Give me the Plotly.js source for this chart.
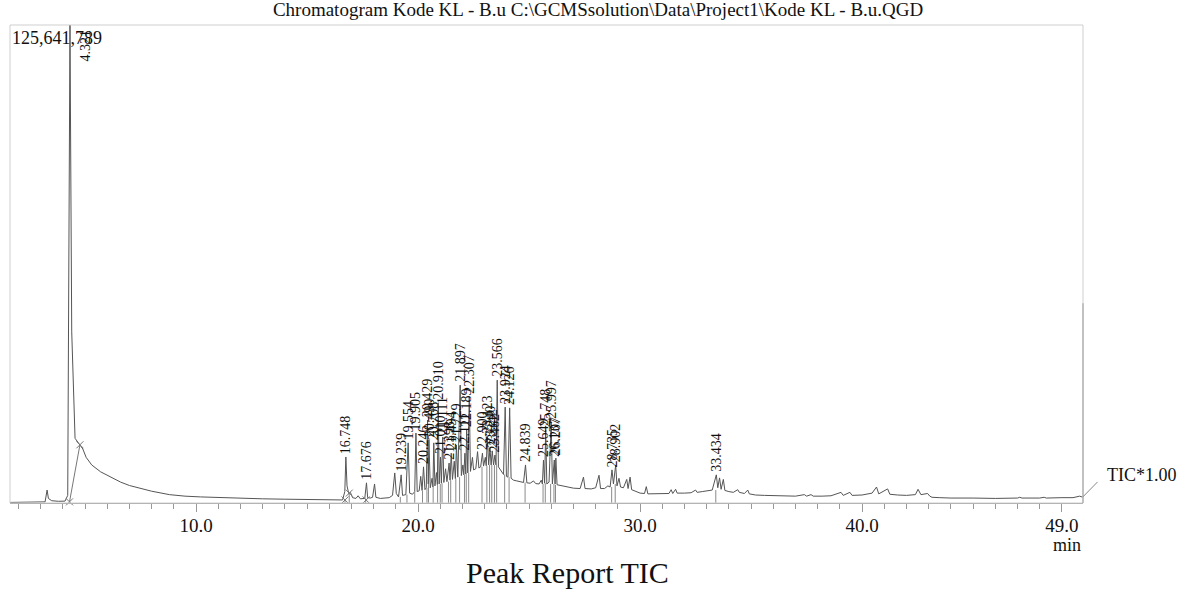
<!DOCTYPE html>
<html>
<head>
<meta charset="utf-8">
<script src="https://cdn.plot.ly/plotly-3.0.1.min.js"></script>
<style>html,body{margin:0;padding:0;background:#fff;}#chart{width:1182px;height:595px;}</style>
</head>
<body>
<div id="chart"></div>
<script>
// TIC trace: retention time (min) and intensity (x10^6 counts)
const ticTime = [
 1.60,2.50,3.20,3.29,3.35,3.50,3.80,4.10,4.22,4.321,4.40,4.55,4.77,4.90,5.05,5.30,5.70,6.20,6.60,7.00,7.50,8.00,8.80,9.50,10.20,11.00,12.00,13.00,14.00,15.00,16.00,16.60,16.70,16.748,16.80,16.88,16.95,17.05,17.20,17.30,17.40,17.60,17.676,17.73,17.85,17.95,18.04,18.10,18.30,18.50,18.70,18.85,18.95,19.02,19.12,19.239,19.30,19.45,19.554,19.62,19.75,19.85,19.905,19.96,20.05,20.12,20.18,20.246,20.31,20.37,20.429,20.46,20.490,20.55,20.63,20.67,20.708,20.76,20.83,20.87,20.910,20.95,21.010,21.05,21.111,21.16,21.24,21.30,21.398,21.44,21.494,21.55,21.63,21.68,21.729,21.79,21.897,21.95,22.02,22.06,22.111,22.15,22.189,22.24,22.307,22.36,22.45,22.50,22.60,22.68,22.74,22.82,22.900,22.95,23.03,23.07,23.123,23.18,23.240,23.29,23.342,23.40,23.462,23.51,23.566,23.62,23.70,23.78,23.85,23.924,23.98,24.05,24.126,24.19,24.30,24.45,24.60,24.75,24.839,24.90,25.05,25.20,25.30,25.45,25.55,25.60,25.649,25.70,25.748,25.80,25.90,25.997,26.05,26.137,26.17,26.207,26.26,26.40,26.60,26.80,27.00,27.30,27.45,27.52,27.80,28.00,28.15,28.22,28.40,28.55,28.65,28.735,28.80,28.902,28.96,29.05,29.12,29.25,29.40,29.46,29.55,29.62,29.80,30.00,30.20,30.28,30.35,30.60,31.00,31.30,31.40,31.47,31.60,31.67,32.00,32.30,32.50,32.57,32.80,32.95,33.10,33.25,33.434,33.50,33.58,33.65,33.75,33.82,34.00,34.20,34.40,34.47,34.70,34.85,34.92,35.20,35.60,36.00,36.50,37.00,37.40,37.50,37.70,37.80,38.20,38.60,39.05,39.15,39.45,39.55,40.00,40.35,40.45,40.65,40.75,41.15,41.25,41.60,42.00,42.40,42.52,42.65,42.95,43.05,43.15,43.50,44.00,45.00,46.00,47.00,47.10,47.20,48.00,48.20,48.30,49.00,49.50,49.80,49.95
];
const ticValue = [
 0.15,0.20,0.30,3.40,1.20,0.60,0.45,0.50,2.0,125.64,45.0,17.0,15.3,14.2,12.0,10.0,8.2,6.6,5.5,4.6,3.9,3.1,2.2,1.8,1.6,1.4,1.2,1.1,1.0,0.9,0.8,0.8,3.0,12.1,4.5,2.4,2.8,1.4,1.2,1.9,1.1,1.2,5.3,1.4,1.3,1.5,5.0,1.5,1.2,1.3,1.4,2.0,7.9,2.5,1.6,7.4,2.0,2.2,15.8,2.6,2.3,3.0,18.4,3.0,3.2,7.0,3.3,9.5,3.5,4.0,21.8,5.0,16.6,4.0,6.5,4.2,15.8,4.5,8.0,4.8,26.3,5.0,12.1,5.2,17.3,5.4,9.0,5.6,10.5,6.0,13.1,6.2,11.0,6.4,15.2,6.8,31.0,7.2,10.0,7.4,13.1,7.6,19.2,7.9,27.9,8.3,12.0,8.7,9.0,13.5,9.2,9.5,13.1,9.7,12.0,9.8,17.3,10.0,14.5,10.0,13.7,10.0,12.6,10.0,32.3,9.5,8.8,8.4,7.5,25.2,7.0,6.8,25.0,6.5,6.0,5.8,5.6,5.4,10.0,5.3,5.2,5.8,5.1,5.0,6.0,5.0,11.3,5.2,19.2,5.0,5.5,21.3,5.0,11.3,5.0,11.8,4.8,4.6,4.5,4.2,3.9,3.8,6.8,3.8,3.7,4.0,7.3,3.8,3.8,4.5,4.2,8.7,5.0,10.0,4.5,6.5,4.2,4.0,6.2,3.8,6.8,3.5,3.0,2.6,2.5,4.3,2.4,2.4,2.4,2.5,3.5,2.5,3.6,2.6,2.6,2.7,3.4,2.8,3.0,3.2,3.2,3.4,7.4,4.0,6.6,3.6,6.2,3.3,3.0,2.8,3.5,2.8,2.5,3.4,2.4,2.1,2.0,1.9,1.8,1.8,2.2,1.8,2.2,1.8,1.8,1.9,2.8,2.0,2.8,2.0,2.1,2.4,2.6,4.2,2.4,3.7,2.3,2.1,2.0,2.2,3.6,2.2,2.5,1.8,1.5,1.4,1.3,1.3,1.2,1.3,1.5,1.3,1.3,1.5,1.3,1.4,1.4,1.8,1.5
];

// Labelled peaks
const peakLabels = ['16.748','17.676','19.239','19.554','19.905','20.246','20.429','20.490','20.708','20.910','21.010','21.111','21.398','21.494','21.729','21.897','22.111','22.189','22.307','22.900','23.123','23.240','23.342','23.462','23.566','23.924','24.126','24.839','25.649','25.748','25.997','26.137','26.207','28.735','28.902','33.434'];
const peakTime = [16.748,17.676,19.239,19.554,19.905,20.246,20.429,20.490,20.708,20.910,21.010,21.111,21.398,21.494,21.729,21.897,22.111,22.189,22.307,22.900,23.123,23.240,23.342,23.462,23.566,23.924,24.126,24.839,25.649,25.748,25.997,26.137,26.207,28.735,28.902,33.434];
const peakHeight = [12.1,5.3,7.4,15.8,18.4,9.5,21.8,16.6,15.8,26.3,12.1,17.3,10.5,13.1,15.2,31.0,13.1,19.2,27.9,13.1,17.3,14.5,13.7,12.6,32.3,25.2,25.0,10.0,11.3,19.2,21.3,11.3,11.8,8.7,10.0,7.4];

// Main solvent peak
const mainPeakTime = 4.321;
const mainPeakLabel = '4.321';
const maxIntensityText = '125,641,789';

// Integration marks (peak boundaries): time, top, bottom
const markTime = [16.71,16.90,17.64,19.20,19.50,19.85,20.20,20.40,20.47,20.68,20.88,21.00,21.08,21.37,21.47,21.70,21.87,22.09,22.17,22.28,22.88,23.10,23.22,23.32,23.44,23.54,23.90,24.10,24.82,25.63,25.73,25.97,26.12,26.19,28.72,28.88,33.41];
const markTop = [0.8,2.6,1.2,1.6,2.2,3.0,3.3,4.0,5.0,4.2,4.8,5.0,5.2,5.6,6.0,6.4,6.8,7.4,7.6,7.9,9.5,9.8,10.0,10.0,10.0,10.0,7.5,6.8,5.4,5.0,5.2,5.0,5.0,4.8,4.2,5.0,3.4];
const markBottom = [-0.8,-0.5,-0.6,-0.5,-0.6,-0.4,-0.6,-0.8,-0.4,-0.6,-1.0,-0.5,-0.8,-0.5,-1.0,-0.6,-0.8,-0.5,-0.6,-0.4,-0.5,-0.4,-0.6,-0.5,-0.4,-0.6,-0.5,-0.8,-0.8,-0.5,-0.6,-0.5,-0.4,-0.5,-0.8,-1.0,-1.0];

// Integration baseline of the solvent peak and cross marks
const solventBaseTime = [4.30, 4.77];
const solventBaseValue = [0.3, 15.3];
const crossTime = [4.30, 4.77, 16.71, 16.90, 17.66];
const crossValue = [0.3, 15.3, 0.8, 2.6, 0.8];

const tickVals = [10, 20, 30, 40, 49];
const tickText = ['10.0', '20.0', '30.0', '40.0', '49.0'];

const serif = 'Liberation Serif, Times New Roman, serif';

// build mark segments
const segX = [], segY = [];
markTime.forEach((t, i) => { segX.push(t, t, null); segY.push(markTop[i], markBottom[i], null); });

const traces = [
  {x: ticTime, y: ticValue, type: 'scatter', mode: 'lines', line: {color: '#555', width: 1}, hoverinfo: 'skip', cliponaxis: false},
  {x: segX, y: segY, type: 'scatter', mode: 'lines', line: {color: '#8a8a8a', width: 1}, hoverinfo: 'skip', cliponaxis: false},
  {x: solventBaseTime, y: solventBaseValue, type: 'scatter', mode: 'lines', line: {color: '#777', width: 1}, hoverinfo: 'skip'},
  {x: crossTime, y: crossValue, type: 'scatter', mode: 'markers', marker: {symbol: 'x-thin-open', size: 7, color: '#777', line: {color: '#777', width: 1}}, hoverinfo: 'skip', cliponaxis: false}
];

const annotations = peakLabels.map((lab, i) => ({
  x: peakTime[i], y: peakHeight[i], xref: 'x', yref: 'y', text: lab, showarrow: false,
  textangle: -90, xanchor: 'center', yanchor: 'bottom', yshift: 1,
  font: {family: serif, size: 14, color: '#111'}
}));

annotations.push({
  x: mainPeakTime, y: 125.64, xref: 'x', yref: 'y', text: mainPeakLabel, showarrow: false,
  textangle: -90, xanchor: 'left', yanchor: 'top', xshift: 6, yshift: -2,
  font: {family: serif, size: 14, color: '#111'}
});
annotations.push({
  x: 0, y: 1, xref: 'paper', yref: 'paper', text: maxIntensityText, showarrow: false,
  xanchor: 'left', yanchor: 'top', xshift: 0, yshift: -1,
  font: {family: serif, size: 18, color: '#111'}
});
annotations.push({
  x: 1, y: 0, xref: 'paper', yref: 'paper', text: 'TIC*1.00', showarrow: false,
  xanchor: 'left', yanchor: 'middle', xshift: 22, yshift: 28,
  font: {family: serif, size: 18, color: '#111'}
});
annotations.push({
  x: 49, y: 0, xref: 'x', yref: 'paper', text: 'min', showarrow: false,
  xanchor: 'center', yanchor: 'middle', xshift: 5, yshift: -42,
  font: {family: serif, size: 18, color: '#111'}
});
annotations.push({
  x: 0.52, y: 0, xref: 'paper', yref: 'paper', text: 'Peak Report TIC', showarrow: false,
  xanchor: 'center', yanchor: 'middle', yshift: -69,
  font: {family: serif, size: 30, color: '#111'}
});

const layout = {
  width: 1182, height: 595,
  margin: {l: 10, r: 99, t: 25, b: 92},
  paper_bgcolor: '#fff', plot_bgcolor: '#fff',
  showlegend: false,
  title: {text: 'Chromatogram Kode KL - B.u C:\\GCMSsolution\\Data\\Project1\\Kode KL - B.u.QGD',
          font: {family: serif, size: 19, color: '#111'}, x: 0.506, xanchor: 'center', y: 0.995, yanchor: 'top'},
  xaxis: {
    range: [1.62, 49.95], showgrid: false, zeroline: false,
    showline: true, linecolor: '#999', linewidth: 1,
    tickmode: 'array', tickvals: tickVals, ticktext: tickText,
    ticks: 'outside', ticklen: 8, tickcolor: '#999', tickwidth: 1,
    ticklabelstandoff: -3,
    minor: {dtick: 1, tick0: 0, ticks: 'outside', ticklen: 5, tickcolor: '#999', tickwidth: 1},
    tickfont: {family: serif, size: 19, color: '#111'}
  },
  yaxis: {range: [0, 125.64], visible: false, fixedrange: true},
  shapes: [
    {type: 'rect', xref: 'paper', yref: 'paper', x0: 0, x1: 1, y0: 0, y1: 1, line: {color: '#cfcfcf', width: 1}},
    {type: 'line', xref: 'paper', yref: 'paper', x0: 1, x1: 1, y0: 0, y1: 0.418, line: {color: '#b5b5b5', width: 1.5}},
    {type: 'line', xref: 'paper', yref: 'paper', x0: 1, x1: 1.0135, y0: 0.013, y1: 0.044, line: {color: '#888', width: 1}}
  ],
  annotations: annotations
};

Plotly.newPlot('chart', traces, layout, {displayModeBar: false, staticPlot: true});
</script>
</body>
</html>
